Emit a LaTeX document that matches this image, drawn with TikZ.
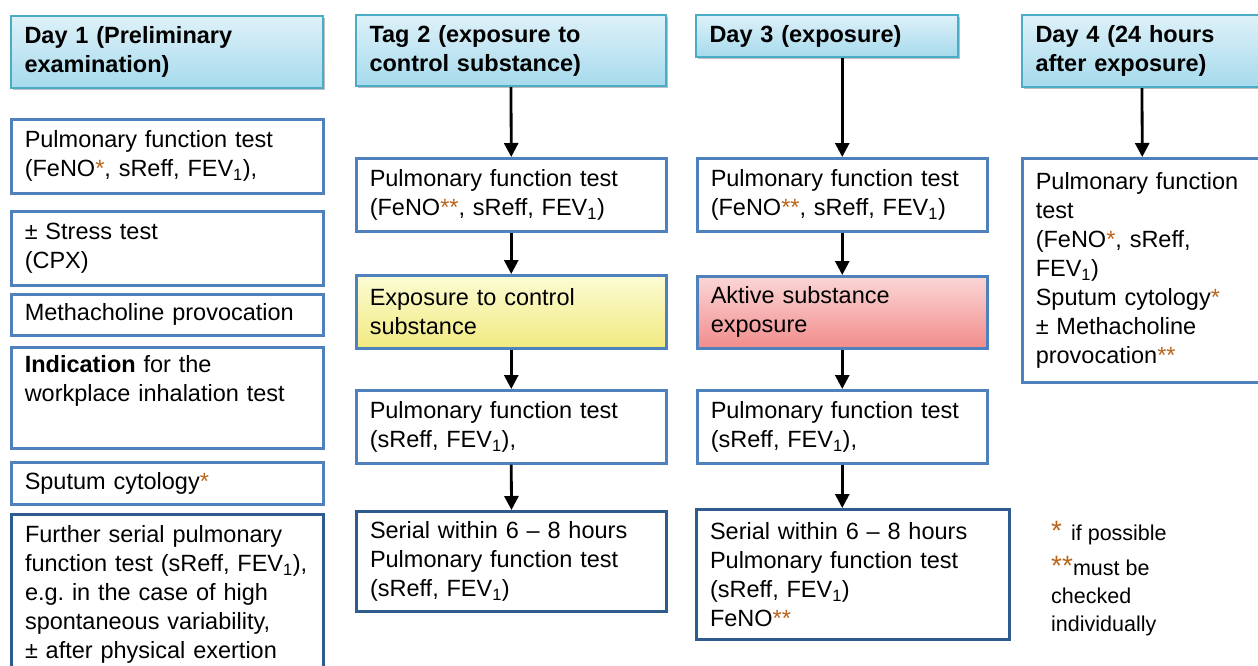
\documentclass[tikz,border=0pt]{standalone}
\usepackage{fontspec}
\setmainfont{Liberation Sans}
\usetikzlibrary{arrows.meta,shadows}
\definecolor{hdrtop}{HTML}{DEF1F9}
\definecolor{hdrbot}{HTML}{A6DAEC}
\definecolor{hdrborder}{HTML}{4BACC6}
\definecolor{boxblue}{HTML}{4F81BD}
\definecolor{darkblue}{HTML}{2E5C8E}
\definecolor{yeltop}{HTML}{FCFCD4}
\definecolor{yelbot}{HTML}{F1EA80}
\definecolor{redtop}{HTML}{FBD6D6}
\definecolor{redbot}{HTML}{F28C8C}
\definecolor{ast}{HTML}{B8641A}
\frenchspacing
\newcommand{\fsz}{\fontsize{23.5}{29}\selectfont}
\newcommand{\st}[1]{\textcolor{ast}{#1}}
\newcommand{\one}{\textsubscript{1}}
\tikzset{
  base/.style={align=left, anchor=north west, inner xsep=13.5pt, inner ysep=0pt, font=\fsz},
  hdr/.style={base, draw=hdrborder, line width=2pt, top color=hdrtop, bottom color=hdrbot,
    drop shadow={shadow xshift=1.5pt, shadow yshift=-2pt, fill=black, opacity=0.25}, font=\fsz\bfseries},
  box/.style={base, draw=boxblue, line width=2.5pt, fill=white},
  darkbox/.style={box, draw=darkblue, line width=3pt},
  yelbox/.style={box, top color=yeltop, bottom color=yelbot},
  redbox/.style={box, top color=redtop, bottom color=redbot},
  sz/.style n args={3}{minimum width=#1pt, text width=#2pt, minimum height=#3pt},
  arr/.style={line width=2.8pt, -{Triangle[width=14pt,length=14pt]}},
  legend/.style={align=left, anchor=north west, inner sep=0pt, font=\fontsize{21.5}{28}\selectfont}
}
\newcommand{\bigst}[1]{{\fontsize{28}{28}\selectfont\st{#1}}}
\begin{document}
\begin{tikzpicture}[x=1pt,y=-1pt]
\useasboundingbox (0,0) rectangle (1258,665);
% column 1
\node[hdr, sz={312}{285}{72}] (h1) at (10,15) {Day 1 (Preliminary\\examination)};
\node[box, sz={312}{285}{74}] (b11) at (10,118) {Pulmonary function test\\(FeNO\st{*}, sReff, FEV\one),};
\node[box, sz={312}{285}{74}] (b12) at (10,210) {± Stress test\\(CPX)};
\node[box, sz={312}{285}{41}] (b13) at (10,293) {Methacholine provocation};
\node[box, sz={312}{285}{101}] (b14) at (10,346) {\textbf{Indication} for the\\workplace inhalation test\\\strut};
\node[box, sz={312}{285}{42}] (b15) at (10,461) {Sputum cytology\st{*}};
\node[darkbox, sz={312}{285}{160}] (b16) at (10,513) {Further serial pulmonary\\function test (sReff, FEV\one),\\e.g. in the case of high\\spontaneous variability,\\± after physical exertion};
% column 2
\node[hdr, sz={310}{283}{71}] (h2) at (355,14) {Tag 2 (exposure to\\control substance)};
\node[box, sz={310}{283}{73}] (b21) at (355,157) {Pulmonary function test\\(FeNO\st{**}, sReff, FEV\one)};
\node[yelbox, sz={310}{283}{73}] (b22) at (355,274) {Exposure to control\\substance};
\node[box, sz={310}{283}{73}] (b23) at (355,389) {Pulmonary function test\\(sReff, FEV\one),};
\node[darkbox, sz={310}{283}{100}] (b24) at (355,510) {Serial within 6 – 8 hours\\Pulmonary function test\\(sReff, FEV\one)};
% column 3
\node[hdr, sz={262}{235}{42}] (h3) at (695,14) {Day 3 (exposure)};
\node[box, sz={290}{263}{73}] (b31) at (696,157) {Pulmonary function test\\(FeNO\st{**}, sReff, FEV\one)};
\node[redbox, sz={290}{263}{72}] (b32) at (696,275) {Aktive substance\\exposure};
\node[box, sz={290}{263}{73}] (b33) at (696,389) {Pulmonary function test\\(sReff, FEV\one),};
\node[darkbox, sz={313}{286}{130}] (b34) at (695,508) {Serial within 6 – 8 hours\\Pulmonary function test\\(sReff, FEV\one)\\FeNO\st{**}};
% column 4
\node[hdr, sz={240}{213}{72}] (h4) at (1021,14) {Day 4 (24 hours\\after exposure)};
\node[box, sz={240}{213}{224}] (b41) at (1021,157) {Pulmonary function\\test\\(FeNO\st{*}, sReff,\\FEV\one)\\Sputum cytology\st{*}\\± Methacholine\\provocation\st{**}};
% legend
\node[legend] (l1) at (1051,521) {\bigst{*}\hspace{9pt}if possible};
\node[legend] (l2) at (1051,556) {\bigst{**}must be\\checked\\individually};
% arrows
\draw[arr] (h2.south) -- (b21.north);
\draw[arr] (b21.south) -- (b22.north);
\draw[arr] (b22.south) -- (b23.north);
\draw[arr] (b23.south) -- (b24.north);
\draw[arr] (h3.south -| b31.north) -- (b31.north);
\draw[arr] (b31.south) -- (b32.north);
\draw[arr] (b32.south) -- (b33.north);
\draw[arr] (b33.south) -- (b33.south |- b34.north);
\draw[arr] (h4.south) -- (b41.north);
\end{tikzpicture}
\end{document}
